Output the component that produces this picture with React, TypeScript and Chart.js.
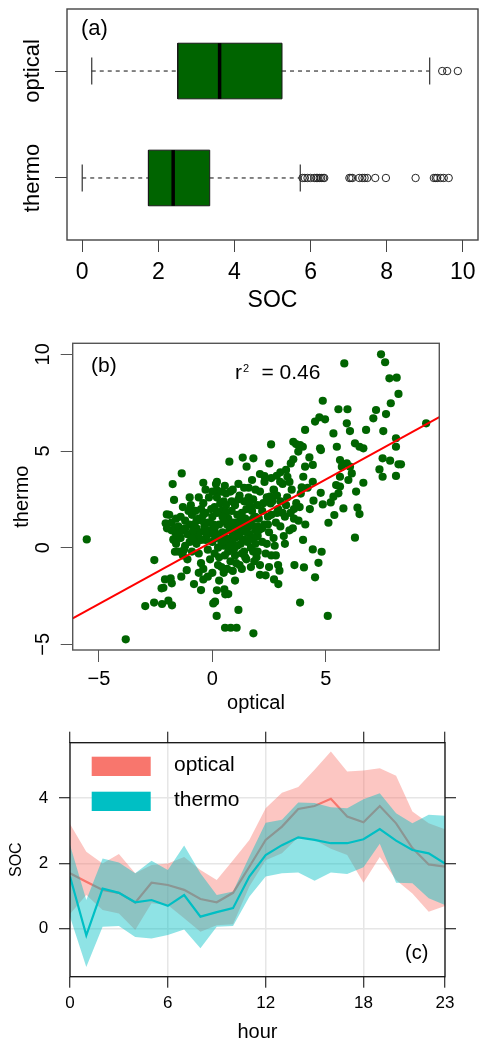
import React, { useEffect, useRef } from 'react';
import { Chart, registerables } from 'chart.js';

Chart.register(...registerables);

const FONT = "'Liberation Sans', Arial, Helvetica, sans-serif";
const W = 483;

// ---------------- Panel (a): box plots ----------------
const boxGroups = ['thermo', 'optical'];
const boxPositions = [1, 2];
const lowerWhisker = [0.0, 0.25];
const quartile1 = [1.74, 2.51];
const medians = [2.39, 3.61];
const quartile3 = [3.35, 5.25];
const upperWhisker = [5.73, 9.13];
const outliersThermo = [5.79, 5.85, 5.92, 6.0, 6.1, 6.15, 6.19, 6.24, 6.28, 6.33, 6.36, 7.02, 7.06, 7.1, 7.28, 7.36, 7.42, 7.49, 7.7, 7.98, 8.76, 9.24, 9.29, 9.33, 9.42, 9.5, 9.63];
const outliersOptical = [9.46, 9.59, 9.87];
const socTicks = [0, 2, 4, 6, 8, 10];

// ---------------- Panel (b): scatter ----------------
const scatterPoints: [number, number][] = [
  [-5.54, 0.43], [-3.82, -4.74], [-2.96, -3.02], [-2.57, -2.84], [-2.22, -2.91], [-1.94, -2.74], [-1.78, -2.98],
  [-2.56, -0.64], [-2.24, -2.10], [-2.16, -2.07], [-2.09, -1.64], [-1.84, -1.59], [-1.79, -1.84], [-1.37, -1.50],
  [-1.13, -1.16], [-0.81, -1.88], [-0.50, -2.19], [-0.40, -1.64], [-1.35, 3.84], [-1.75, 3.29], [-1.69, 2.47],
  [-2.01, 1.72], [-2.06, 1.26], [-1.72, 0.43], [-1.65, -0.21], [-0.40, 3.36], [0.16, 3.29], [0.19, 2.98],
  [0.75, 4.45], [1.34, 4.66], [1.51, 4.19], [1.81, 4.62], [2.10, 3.81], [2.59, 5.34], [2.51, 4.36], [2.84, 3.72],
  [0.04, -2.88], [0.12, -2.79], [0.19, -3.53], [0.53, -2.16], [0.57, -2.41], [0.56, -4.14], [0.81, -4.14],
  [1.07, -4.14], [1.15, -3.22], [1.81, -4.43], [2.35, -1.43], [2.72, -1.64], [2.91, -1.88], [2.96, -1.19],
  [3.87, -2.84], [3.62, -0.90], [4.04, -1.02], [4.53, -1.53], [4.68, -0.78], [4.43, -0.09], [4.82, -0.21],
  [5.09, -3.53], [6.29, 0.52], [6.49, 1.74], [6.40, 2.07], [6.66, 3.36], [6.34, 2.90], [6.15, 3.84], [5.93, 4.36],
  [5.78, 2.03], [5.38, 1.69], [5.12, 1.29], [5.22, 2.34], [4.87, 2.24], [4.78, 2.84], [4.46, 2.43], [4.43, 3.41],
  [4.28, 4.67], [4.09, 6.09], [4.53, 6.52], [4.72, 6.74], [4.87, 7.60], [4.97, 6.64], [5.34, 5.91], [5.49, 5.22],
  [5.93, 6.43], [5.96, 7.16], [5.56, 7.16], [5.82, 9.53], [6.07, 6.03], [6.29, 5.40], [6.49, 5.22], [6.66, 5.14],
  [6.78, 6.09], [7.10, 6.69], [7.22, 7.12], [7.44, 10.0], [7.62, 9.59], [7.81, 8.76], [8.13, 8.79], [8.21, 7.95],
  [7.87, 7.47], [7.66, 6.91], [7.54, 6.03], [7.51, 4.62], [7.37, 4.05], [7.51, 3.67], [7.84, 4.50], [8.10, 5.66],
  [8.10, 5.22], [8.21, 4.31], [8.32, 4.31], [8.10, 3.71], [9.43, 6.43], [4.75, 5.14], [4.79, 5.05], [4.43, 4.28],
  [4.09, 4.19], [4.01, 3.67], [3.94, 3.12], [3.57, 4.57], [3.57, 5.48], [3.69, 5.36], [3.87, 5.31], [3.99, 5.22],
  [3.79, 4.97], [3.46, 4.36], [3.25, 4.02], [3.31, 3.67], [2.99, 3.41], [2.72, 2.98], [2.54, 2.64], [2.57, 2.29],
  [5.63, 4.53], [5.71, 4.19], [6.07, 4.19], [6.00, 3.50], [5.63, 3.16], [5.56, 2.81], [5.34, 2.64], [5.46, 3.24],
  [5.63, 3.67],
  [-1.9, 1.7], [-1.8, 1.3], [-1.6, 1.5], [-1.5, 1.1], [-1.4, 1.6], [-1.3, 0.9], [-1.2, 1.4], [-1.1, 0.7], [-1.0, 1.2],
  [-0.9, 1.7], [-1.7, 0.4], [-1.6, 0.2], [-1.5, -0.2], [-1.4, 0.5], [-1.3, -0.4], [-1.2, 0.1], [-1.1, -0.6],
  [-1.0, 0.3], [-0.9, -0.2], [-0.8, 0.6], [-0.7, 1.0], [-0.6, 1.5], [-0.5, 2.0], [-0.4, 2.3], [-0.3, 1.8],
  [-0.2, 1.3], [-0.1, 0.9], [0.0, 1.6], [0.1, 2.1], [0.2, 2.6], [-0.7, 0.2], [-0.6, -0.3], [-0.5, -0.8],
  [-0.4, -1.1], [-0.3, 0.4], [-0.2, -0.1], [-0.1, -0.6], [0.0, 0.3], [0.1, -0.3], [0.2, 0.7], [0.3, 1.2],
  [0.4, 1.9], [0.5, 2.4], [0.6, 2.8], [0.7, 1.5], [0.8, 1.0], [0.9, 0.6], [1.0, 2.2], [1.1, 1.7], [1.2, 2.7],
  [0.3, -0.5], [0.4, -1.0], [0.5, 0.1], [0.6, 0.5], [0.7, -0.2], [0.8, -0.7], [0.9, 0.2], [1.0, -0.4], [1.1, 0.8],
  [1.2, -0.9], [1.3, 1.3], [1.4, 0.4], [1.5, 2.0], [1.6, 1.1], [1.7, 0.0], [1.8, 2.5], [1.9, 1.6], [2.0, 0.6],
  [2.1, 2.9], [2.2, 1.9], [1.3, -0.3], [1.4, 2.4], [1.5, -0.6], [1.6, 3.1], [1.7, 1.4], [1.8, -0.2], [1.9, 0.9],
  [2.0, 2.2], [2.1, -0.9], [2.2, 0.3], [2.3, 1.2], [2.4, 2.6], [2.5, 0.8], [2.6, 1.7], [2.7, 3.0], [2.8, -0.4],
  [2.9, 2.0], [3.0, 1.1], [3.1, 3.3], [3.2, 0.2], [2.3, 3.4], [2.5, -1.0], [2.7, 0.5], [2.9, -0.9], [3.1, 1.8],
  [3.3, 2.6], [3.4, 0.9], [3.5, 3.0], [3.6, 1.5], [3.7, 2.3], [-0.95, 2.2], [-0.75, 1.9], [-0.55, 0.8],
  [-0.35, 1.1], [-0.15, 2.6], [0.05, 1.2], [0.25, 0.0], [0.45, 0.8], [0.65, 1.2], [0.85, 1.9], [1.05, 1.3],
  [1.25, 0.2], [1.45, 1.5], [1.65, 0.7], [1.85, 1.1], [2.05, 1.5], [2.25, 2.3], [2.45, 1.6], [2.65, 2.4],
  [2.85, 2.7], [0.15, 0.5], [0.35, 2.3], [0.55, -0.4], [0.75, 0.9], [0.95, -0.1], [1.15, 2.5], [1.35, 0.9],
  [1.55, 0.3], [1.75, 1.9], [1.95, -0.5], [-0.25, 0.6], [-0.45, 1.4], [-0.65, 0.4], [-0.85, 0.9], [-1.05, 1.9],
  [-1.25, -0.1], [-1.45, 0.8], [-1.65, 1.0], [0.6, 1.8], [0.8, 2.9], [1.0, 0.5], [1.2, 1.1], [1.4, -0.2],
  [1.6, 2.6], [1.8, 0.5], [2.0, -0.2], [2.2, 1.0], [2.4, 0.2], [2.6, -0.4], [2.8, 1.3], [3.0, 2.4], [3.2, 1.6],
  [3.4, 3.4], [3.6, 2.0], [3.8, 1.4], [3.9, 2.8], [4.0, 0.4], [4.1, 1.2], [4.2, 3.1], [4.3, 2.0], [0.0, -1.3],
  [0.3, -1.7], [0.5, -1.3], [0.9, -1.2], [1.3, -1.1], [1.7, -1.0], [2.1, -1.4], [-0.2, -1.5], [-0.6, -1.3],
  [0.7, -2.4], [0.2, -2.2], [1.0, -1.7], [0.4, 2.9], [0.9, 3.0], [1.4, 3.1], [1.9, 3.0], [2.3, 3.7], [0.0, 2.9],
  [-0.3, 3.0], [0.2, 3.4],
  [0.1, 1.0], [0.3, 0.6], [0.5, 1.4], [0.7, 0.3], [0.9, 1.3], [1.1, 0.1], [1.3, 1.8], [1.5, 0.8], [1.7, 2.1],
  [1.9, 0.2], [0.2, 1.8], [0.4, 0.3], [0.6, 2.2], [0.8, 0.1], [1.0, 1.0], [1.2, 0.6], [1.4, 1.2], [1.6, 0.4],
  [1.8, 1.5], [2.0, 1.1], [-0.1, 1.3], [-0.3, 0.8], [-0.5, 0.4], [-0.7, 1.4], [-0.9, 0.5], [0.05, 0.7],
  [0.45, 1.6], [0.85, 2.4], [1.25, 1.6], [1.65, 2.3], [2.05, 0.9], [2.45, 1.2], [2.85, 1.8], [3.25, 2.2],
  [3.45, 1.8], [-0.05, 2.0], [-0.4, 1.7], [-0.8, 1.2], [-1.2, 1.0], [-1.6, 0.7], [0.25, -0.9], [0.65, -1.1],
  [1.05, -0.8], [1.45, -0.5], [1.85, -0.7], [2.35, -0.3], [2.75, 0.1], [3.15, 0.6], [3.55, 1.0], [3.85, 2.1],
  [0.55, 3.2], [1.15, 3.3], [1.75, 3.5], [2.6, 3.6], [3.0, 3.9], [-0.6, 2.6], [-1.0, 2.6], [-1.3, 2.1],
  [-1.8, 0.9], [-2.0, 1.0],
];
const regressionSlope = 0.643;
const regressionIntercept = 0.31;
const rSquaredText = '= 0.46';
const opticalTicks = [-5, 0, 5];
const thermoTicks = [-5, 0, 5, 10];

// ---------------- Panel (c): diurnal ----------------
const hours = [0, 1, 2, 3, 4, 5, 6, 7, 8, 9, 10, 11, 12, 13, 14, 15, 16, 17, 18, 19, 20, 21, 22, 23];
const opticalMean = [1.70, 1.44, 1.19, 1.10, 0.80, 1.41, 1.34, 1.19, 0.91, 0.81, 1.10, 1.90, 2.72, 3.13, 3.67, 3.76, 3.98, 3.44, 3.26, 3.76, 3.23, 2.47, 1.97, 1.90];
const opticalUpper = [3.21, 2.36, 2.00, 2.29, 1.70, 1.95, 2.00, 2.20, 1.80, 1.49, 2.10, 2.72, 3.69, 4.17, 4.34, 4.87, 5.43, 4.82, 4.85, 4.92, 4.69, 3.59, 3.23, 3.05];
const opticalLower = [0.45, 1.03, 0.57, 0.47, -0.04, 0.78, 0.73, 0.32, -0.09, 0.11, 0.14, 1.29, 2.10, 2.31, 2.80, 2.72, 2.45, 2.26, 1.41, 2.20, 1.49, 1.08, 0.52, 0.70];
const thermoMean = [1.60, -0.20, 1.23, 1.10, 0.81, 0.88, 0.70, 1.03, 0.37, 0.51, 0.63, 1.60, 2.26, 2.56, 2.80, 2.72, 2.62, 2.62, 2.74, 3.05, 2.70, 2.41, 2.31, 2.00];
const thermoUpper = [2.57, 0.88, 2.15, 2.03, 1.70, 2.08, 1.80, 2.55, 1.70, 1.03, 1.14, 2.21, 3.25, 3.34, 3.87, 3.85, 3.72, 3.69, 3.97, 4.15, 3.54, 3.23, 3.49, 3.46];
const thermoLower = [0.37, -1.17, 0.06, 0.08, -0.25, -0.30, -0.19, -0.02, -0.60, 0.06, 0.08, 0.98, 1.60, 1.70, 1.72, 1.47, 1.72, 1.68, 1.88, 2.60, 1.41, 1.39, 0.93, 0.73];
const hourTicks = [0, 6, 12, 18, 23];
const socHourTicks = [0, 2, 4];
const seriesNames = ['optical', 'thermo'];
const seriesColors = ['#F8766D', '#00BFC4'];
const bandColors = ['rgba(248,118,109,0.42)', 'rgba(0,191,196,0.44)'];

// ---------------- helpers ----------------
type TextItem = { text: string; x: number; y: number; size: number; align?: CanvasTextAlign };

const textPlugin = (id: string, items: TextItem[]) => ({
  id,
  afterDraw(chart: any) {
    const ctx = chart.ctx;
    ctx.save();
    ctx.fillStyle = '#000';
    ctx.textBaseline = 'middle';
    items.forEach((t) => {
      ctx.font = `${t.size}px ${FONT}`;
      ctx.textAlign = t.align || 'left';
      ctx.fillText(t.text, t.x, t.y);
    });
    ctx.restore();
  },
});

const framePlugin = (color: string, width: number) => ({
  id: 'frame',
  afterDatasetsDraw(chart: any) {
    const { ctx, chartArea: a } = chart;
    ctx.save();
    ctx.strokeStyle = color;
    ctx.lineWidth = width;
    ctx.strokeRect(a.left, a.top, a.right - a.left, a.bottom - a.top);
    ctx.restore();
  },
});

const rotatedYLabels = (scaleId: string, x: number, size: number, values: number[], labels: string[]) => ({
  id: 'rotatedYLabels',
  afterDraw(chart: any) {
    const scale = chart.scales[scaleId];
    const ctx = chart.ctx;
    ctx.save();
    ctx.font = `${size}px ${FONT}`;
    ctx.fillStyle = '#000';
    ctx.textAlign = 'center';
    ctx.textBaseline = 'middle';
    values.forEach((v, i) => {
      const y = scale.getPixelForValue(v);
      ctx.save();
      ctx.translate(x, y);
      ctx.rotate(-Math.PI / 2);
      ctx.fillText(labels[i], 0, 0);
      ctx.restore();
    });
    ctx.restore();
  },
});

const fixTicks = (values: number[]) => (scale: any) => {
  scale.ticks = values.map((v) => ({ value: v }));
};

const fitSize = (size: number, horizontal: boolean) => (scale: any) => {
  if (horizontal) scale.height = size;
  else scale.width = size;
  scale.paddingLeft = 0;
  scale.paddingRight = 0;
  scale.paddingTop = 0;
  scale.paddingBottom = 0;
};

const minus = (v: number) => (v < 0 ? '\u2212' + Math.abs(v) : String(v));

const baseOptions = {
  responsive: false,
  animation: false,
  devicePixelRatio: 1,
  events: [],
};

// ---------------- chart configs ----------------
function buildBoxplot(): any {
  const BOX_HALF = 0.26;
  const CAP_HALF = 0.127;
  const datasets: any[] = [];
  const lineDs = (data: any[], extra: any) => ({
    type: 'line',
    data,
    pointRadius: 0,
    fill: false,
    tension: 0,
    borderColor: '#333',
    borderWidth: 1.2,
    ...extra,
  });
  boxPositions.forEach((pos, i) => {
    datasets.push(lineDs([{ x: lowerWhisker[i], y: pos }, { x: quartile1[i], y: pos }], { borderDash: [4, 4], order: 3 }));
    datasets.push(lineDs([{ x: quartile3[i], y: pos }, { x: upperWhisker[i], y: pos }], { borderDash: [4, 4], order: 3 }));
    datasets.push(lineDs([{ x: lowerWhisker[i], y: pos - CAP_HALF }, { x: lowerWhisker[i], y: pos + CAP_HALF }], { order: 3 }));
    datasets.push(lineDs([{ x: upperWhisker[i], y: pos - CAP_HALF }, { x: upperWhisker[i], y: pos + CAP_HALF }], { order: 3 }));
    datasets.push(
      lineDs(
        [
          { x: quartile1[i], y: pos - BOX_HALF },
          { x: quartile3[i], y: pos - BOX_HALF },
          { x: quartile3[i], y: pos + BOX_HALF },
          { x: quartile1[i], y: pos + BOX_HALF },
          { x: quartile1[i], y: pos - BOX_HALF },
        ],
        { fill: 'shape', backgroundColor: '#006400', borderColor: '#1a1a1a', borderWidth: 1, order: 2 }
      )
    );
    datasets.push(lineDs([{ x: medians[i], y: pos - BOX_HALF }, { x: medians[i], y: pos + BOX_HALF }], { borderColor: '#000', borderWidth: 3.5, order: 1 }));
  });
  const outlierSets = [outliersThermo, outliersOptical];
  boxPositions.forEach((pos, i) => {
    datasets.push({
      type: 'scatter',
      data: outlierSets[i].map((v) => ({ x: v, y: pos })),
      pointRadius: 3.7,
      pointStyle: 'circle',
      backgroundColor: 'rgba(0,0,0,0)',
      borderColor: '#222',
      borderWidth: 1,
      order: 0,
    });
  });
  return {
    type: 'scatter',
    data: { datasets },
    options: {
      ...baseOptions,
      layout: { padding: { left: 0, top: 9, right: 4, bottom: 0 } },
      plugins: { legend: { display: false }, tooltip: { enabled: false } },
      scales: {
        x: {
          type: 'linear',
          min: -0.4,
          max: 10.4,
          afterBuildTicks: fixTicks(socTicks),
          afterFit: fitSize(75, true),
          ticks: { font: { size: 23, family: FONT }, color: '#000', padding: 7, maxRotation: 0 },
          grid: { drawOnChartArea: false, drawTicks: true, tickLength: 12, color: '#444', tickColor: '#444' },
          border: { display: false },
          title: { display: true, text: 'SOC', font: { size: 23, family: FONT }, color: '#000', padding: { top: 0, bottom: 1 } },
        },
        y: {
          type: 'linear',
          min: 0.42,
          max: 2.58,
          afterBuildTicks: fixTicks(boxPositions),
          afterFit: fitSize(67, false),
          ticks: { display: false },
          grid: { drawOnChartArea: false, drawTicks: true, tickLength: 12, color: '#444', tickColor: '#444' },
          border: { display: false },
        },
      },
    },
    plugins: [
      framePlugin('#444', 1.4),
      rotatedYLabels('y', 33, 22, boxPositions, boxGroups),
      textPlugin('labelsA', [{ text: '(a)', x: 81, y: 29, size: 22 }]),
    ],
  };
}

function buildScatter(): any {
  const xMin = -6.16;
  const xMax = 10.01;
  return {
    type: 'scatter',
    data: {
      datasets: [
        {
          type: 'line',
          data: [
            { x: xMin, y: regressionIntercept + regressionSlope * xMin },
            { x: xMax, y: regressionIntercept + regressionSlope * xMax },
          ],
          pointRadius: 0,
          borderColor: '#FF0000',
          borderWidth: 2,
          fill: false,
          order: 0,
        },
        {
          type: 'scatter',
          data: scatterPoints.map(([x, y]) => ({ x, y })),
          pointRadius: 4.1,
          backgroundColor: '#006400',
          borderWidth: 0,
          order: 1,
        },
      ],
    },
    options: {
      ...baseOptions,
      layout: { padding: { left: 0, top: 28.3, right: 43.7, bottom: 0 } },
      plugins: { legend: { display: false }, tooltip: { enabled: false } },
      scales: {
        x: {
          type: 'linear',
          min: xMin,
          max: xMax,
          afterBuildTicks: fixTicks(opticalTicks),
          afterFit: fitSize(65, true),
          ticks: { font: { size: 20, family: FONT }, color: '#000', padding: 5, maxRotation: 0, callback: (v: number) => minus(v) },
          grid: { drawOnChartArea: false, drawTicks: true, tickLength: 12, color: '#555', tickColor: '#555' },
          border: { display: false },
          title: { display: true, text: 'optical', font: { size: 20, family: FONT }, color: '#000', padding: { top: 0, bottom: 0 } },
        },
        y: {
          type: 'linear',
          min: -5.29,
          max: 10.57,
          afterBuildTicks: fixTicks(thermoTicks),
          afterFit: fitSize(72.7, false),
          ticks: { display: false },
          grid: { drawOnChartArea: false, drawTicks: true, tickLength: 12, color: '#555', tickColor: '#555' },
          border: { display: false },
          title: { display: true, text: 'thermo', font: { size: 20, family: FONT }, color: '#000', padding: { top: 10, bottom: 0 } },
        },
      },
    },
    plugins: [
      framePlugin('#555', 1.4),
      rotatedYLabels('y', 43.5, 20, thermoTicks, thermoTicks.map(minus)),
      textPlugin('labelsB', [
        { text: '(b)', x: 91, y: 51.7, size: 21 },
        { text: 'r', x: 235, y: 58.7, size: 21 },
        { text: '2', x: 243, y: 53.5, size: 11 },
        { text: rSquaredText, x: 261.5, y: 58.7, size: 21 },
      ]),
    ],
  };
}

function buildHourly(): any {
  const pts = (vals: number[]) => hours.map((h, i) => ({ x: h, y: vals[i] }));
  const band = (upper: number[], lower: number[], k: number, order: number) => [
    { data: pts(upper), fill: '+1', backgroundColor: bandColors[k], borderWidth: 0, pointRadius: 0, order },
    { data: pts(lower), fill: false, borderWidth: 0, pointRadius: 0, order },
  ];
  const meanLine = (vals: number[], k: number, order: number) => ({
    data: pts(vals),
    fill: false,
    borderColor: seriesColors[k],
    borderWidth: 2.2,
    pointRadius: 0,
    tension: 0,
    order,
  });
  const legendPlugin = {
    id: 'legendC',
    afterDraw(chart: any) {
      const { ctx, chartArea: a } = chart;
      ctx.save();
      seriesNames.forEach((name, k) => {
        const top = a.top + 14 + k * 35;
        ctx.fillStyle = seriesColors[k];
        ctx.fillRect(a.left + 21.7, top, 59, 19.3);
        ctx.fillStyle = '#000';
        ctx.font = `21px ${FONT}`;
        ctx.textAlign = 'left';
        ctx.textBaseline = 'middle';
        ctx.fillText(name, a.left + 104, top + 8.7);
      });
      ctx.restore();
    },
  };
  const gridCommon = { color: '#e6e6e6', lineWidth: 1.5, tickColor: '#000', tickWidth: 1, tickLength: 11 };
  return {
    type: 'line',
    data: {
      datasets: [
        ...band(opticalUpper, opticalLower, 0, 4),
        meanLine(opticalMean, 0, 3),
        ...band(thermoUpper, thermoLower, 1, 2),
        meanLine(thermoMean, 1, 1),
      ],
    },
    options: {
      ...baseOptions,
      layout: { padding: 0 },
      plugins: { legend: { display: false }, tooltip: { enabled: false } },
      scales: {
        x: {
          type: 'linear',
          min: 0,
          max: 23,
          afterBuildTicks: fixTicks(hourTicks),
          afterFit: fitSize(71.3, true),
          ticks: { font: { size: 17, family: FONT }, color: '#000', padding: 5.4, maxRotation: 0 },
          grid: { ...gridCommon, drawOnChartArea: true },
          border: { display: false },
          title: { display: true, text: 'hour', font: { size: 20, family: FONT }, color: '#000', padding: { top: 0, bottom: 4 } },
        },
        x2: {
          type: 'linear',
          position: 'top',
          min: 0,
          max: 23,
          afterBuildTicks: fixTicks(hourTicks),
          afterFit: fitSize(27.7, true),
          ticks: { display: false },
          grid: { ...gridCommon, drawOnChartArea: false },
          border: { display: false },
        },
        y: {
          type: 'linear',
          min: -1.47,
          max: 5.7,
          afterBuildTicks: fixTicks(socHourTicks),
          afterFit: fitSize(70, false),
          ticks: { font: { size: 17, family: FONT }, color: '#000', padding: 10.7 },
          grid: { ...gridCommon, drawOnChartArea: true },
          border: { display: false },
          title: { display: true, text: 'SOC', font: { size: 16, family: FONT }, color: '#000', padding: { top: 7.4, bottom: 0 } },
        },
        y2: {
          type: 'linear',
          position: 'right',
          min: -1.47,
          max: 5.7,
          afterBuildTicks: fixTicks(socHourTicks),
          afterFit: fitSize(38, false),
          ticks: { display: false },
          grid: { ...gridCommon, drawOnChartArea: false },
          border: { display: false },
        },
      },
    },
    plugins: [
      framePlugin('#111', 1.3),
      legendPlugin,
      textPlugin('labelsC', [{ text: '(c)', x: 405, y: 238, size: 20 }]),
    ],
  };
}

function Panel({ top, height, build }: { top: number; height: number; build: () => any }) {
  const ref = useRef<HTMLCanvasElement>(null);
  useEffect(() => {
    const chart = new Chart(ref.current as HTMLCanvasElement, build());
    return () => chart.destroy();
  }, [build]);
  return (
    <canvas
      ref={ref}
      width={W}
      height={height}
      style={{ position: 'absolute', left: 0, top, width: W, height, display: 'block' }}
    />
  );
}

export default function App() {
  return (
    <div style={{ position: 'absolute', left: 0, top: 0, width: W, height: 1048, background: '#fff' }}>
      <Panel top={0} height={315} build={buildBoxplot} />
      <Panel top={315} height={400} build={buildScatter} />
      <Panel top={715} height={333} build={buildHourly} />
    </div>
  );
}
